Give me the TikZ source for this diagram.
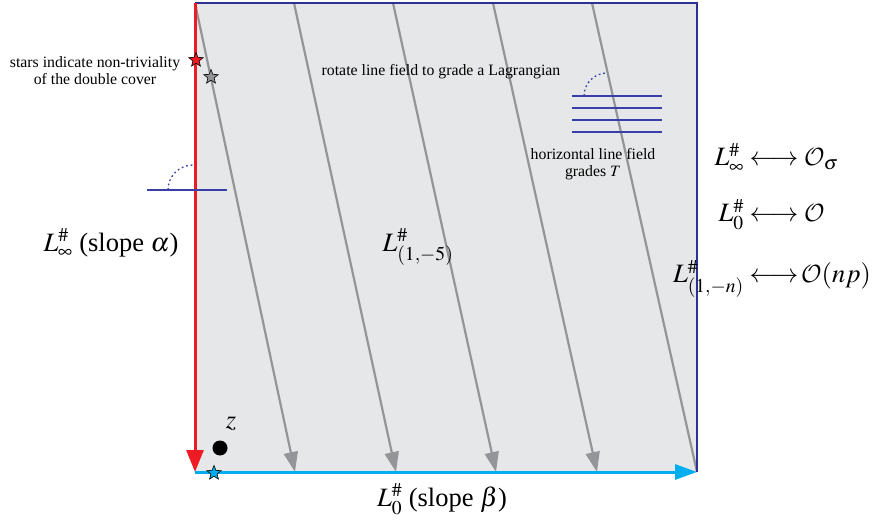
\documentclass[tikz,border=0pt]{standalone}
\usepackage{mathptmx}
\DeclareMathAlphabet{\mathcal}{OMS}{cmsy}{m}{n}
\usepackage{fontspec}
\setmainfont{Liberation Serif}
\usetikzlibrary{arrows.meta, shapes.geometric}
\definecolor{navy}{HTML}{2E3192}
\definecolor{fieldblue}{HTML}{3A3EA8}
\definecolor{edgered}{HTML}{ED1C24}
\definecolor{edgecyan}{HTML}{00AEEF}
\definecolor{flowgray}{HTML}{939598}
\definecolor{sheet}{HTML}{E6E7E8}

\begin{document}
\begin{tikzpicture}[x=1pt, y=-1pt,
  note/.style={font=\fontsize{15.8}{17}\selectfont, align=center},
  big/.style={font=\fontsize{26.5}{30}\selectfont},
  field/.style={fieldblue, line width=1.3pt},
  turn/.style={fieldblue, line width=1.3pt, dash pattern=on 1.8pt off 2.8pt},
  flow/.style={flowgray, line width=2.2pt},
  flowtip/.style={flow, -{Triangle[length=20pt, width=14pt]}},
  markstar/.style={star, star points=5, star point ratio=2.3, minimum size=15pt, inner sep=0pt, draw=black, line width=0.6pt}]
\useasboundingbox (0,0) rectangle (873,521);
% corners of the torus square
\coordinate (nw) at (195,3);
\coordinate (ne) at (697,3);
\coordinate (sw) at (195,472);
\coordinate (se) at (697,472);
\fill[sheet] (nw) rectangle (se);

% rotated line field
\foreach \i/\top/\bot in {1/195/295, 2/294/396, 3/393/496, 4/493/597} {
  \coordinate (t\i) at (\top,3);
  \coordinate (b\i) at (\bot,472);
  \draw[flowtip] (t\i) -- (b\i);
}
\coordinate (t5) at (592,3);
\draw[flow] (t5) -- (se);

% edges
\draw[navy, line width=2pt] (nw) -- (ne) -- (se);
\draw[edgered, line width=3pt, -{Triangle[length=22pt, width=17pt]}] (nw) -- (sw);
\draw[edgecyan, line width=3pt, -{Triangle[length=22pt, width=15pt]}] (sw) -- (se);

% stars
\node[markstar, fill=edgered] (s1) at (196,60) {};
\node[markstar, fill=flowgray] (s2) at (211,77) {};
\node[markstar, fill=edgecyan] (s3) at (214,473) {};

% base point
\fill[black] (220,448) circle (7.5pt);
\node[big] (z) at (231,424) {$z$};

% horizontal line field
\draw[field] (147,190) -- (227,190);
\draw[turn] (168,190) arc[start angle=180, end angle=270, radius=25];
\foreach \y in {96,108,120,132}
  \draw[field] (572,\y) -- (662,\y);
\draw[turn] (584,96) arc[start angle=180, end angle=270, radius=23];

% labels
\node[note] (stars) at (95,71) {stars indicate non-triviality\\of the double cover};
\node[note] (rot) at (441,72) {rotate line field to grade a Lagrangian};
\node[note] (hor) at (593,164) {horizontal line field\\grades $T$};
\node[big] (linf) at (111,243) {$L^{\#}_{\infty}$ (slope $\alpha$)};
\node[big] (lfive) at (418,247) {$L^{\#}_{(1,-5)}$};
\node[big] (lzero) at (442,499) {$L^{\#}_{0}$ (slope $\beta$)};
\node[big, anchor=base] (r1) at (774,166) {\llap{$L^{\#}_{\infty}\;$}$\longleftrightarrow$\rlap{$\;\mathcal{O}_{\sigma}$}};
\node[big, anchor=base] (r2) at (774,222) {\llap{$L^{\#}_{0}\;$}$\longleftrightarrow$\rlap{$\;\mathcal{O}$}};
\node[big, anchor=base] (r3) at (774,283) {\llap{$L^{\#}_{(1,-n)}\;$}$\longleftrightarrow$\rlap{$\,\mathcal{O}(np)$}};
\end{tikzpicture}
\end{document}
